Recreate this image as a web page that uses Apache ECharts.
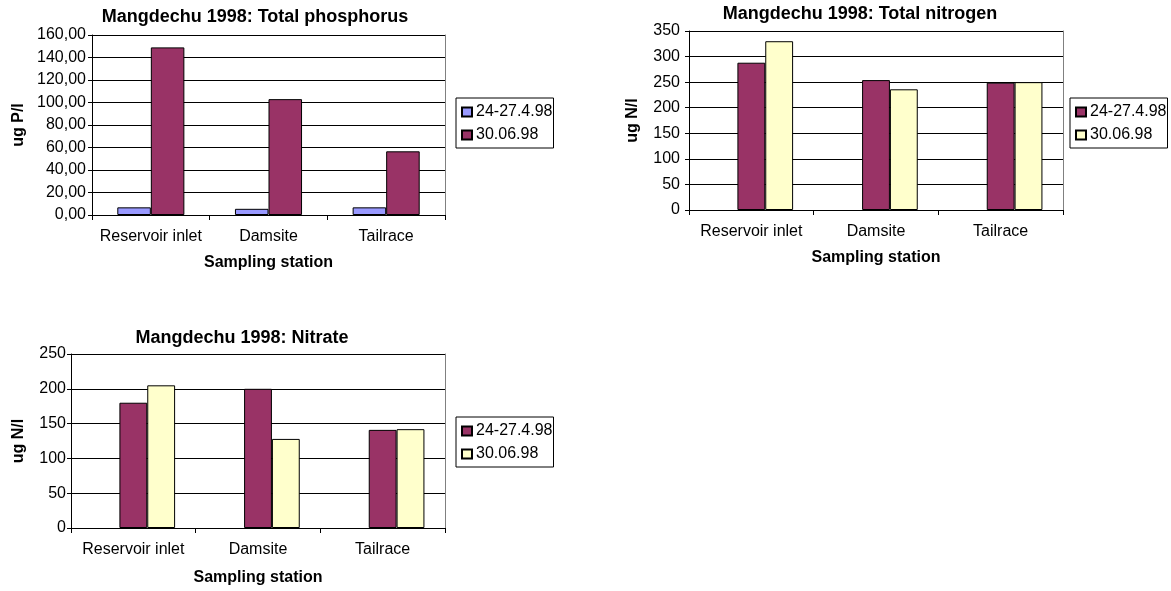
<!DOCTYPE html>
<html><head><meta charset="utf-8">
<script src="https://cdn.jsdelivr.net/npm/echarts@6/dist/echarts.min.js"></script>
<style>html,body{margin:0;padding:0;background:#fff;} .ch{position:absolute;}</style>
</head><body>
<div id="c1" class="ch" style="left:0;top:0;width:580px;height:300px"></div>
<div id="c2" class="ch" style="left:580px;top:0;width:591px;height:300px"></div>
<div id="c3" class="ch" style="left:0;top:300px;width:580px;height:291px"></div>
<script>
const stations = ['Reservoir inlet', 'Damsite', 'Tailrace'];
const seriesNames = ['24-27.4.98', '30.06.98'];
const phosApril = [6.8, 5.5, 6.8];
const phosJune = [149, 103, 56.6];
const nitroApril = [288, 254, 249];
const nitroJune = [330, 236, 250];
const nitrateApril = [180, 200, 141];
const nitrateJune = [205, 128, 142];
const phosTicks = {min: 0, max: 160, interval: 20};
const nitroTicks = {min: 0, max: 350, interval: 50};
const nitrateTicks = {min: 0, max: 250, interval: 50};

const FONT = '"Liberation Sans", Arial, sans-serif';
const RED = '#993366', BLUE = '#9999FF', YELLOW = '#FFFFCC';

function build(c) {
  const series = [];
  if (c.emptySlot) {
    series.push({type: 'bar', name: '_empty', data: stations.map(() => '-'), barGap: 0, barCategoryGap: c.catGap});
  }
  c.data.forEach((d, i) => {
    series.push({
      type: 'bar', name: seriesNames[i], data: d, barGap: 0, barCategoryGap: c.catGap,
      itemStyle: {color: c.colors[i], borderColor: '#000', borderWidth: 1},
      emphasis: {disabled: true}
    });
  });
  const yFont = {fontFamily: FONT, fontSize: 16, fontWeight: 'bold', color: '#000'};
  return {
    animation: false,
    backgroundColor: '#fff',
    title: {
      text: c.title, left: c.titleX, top: c.titleY, textAlign: 'center', padding: 0,
      textStyle: {fontFamily: FONT, fontSize: 18, fontWeight: 'bold', color: '#000'}
    },
    legend: {
      data: seriesNames, orient: 'vertical', left: c.legendX, top: c.legendY,
      padding: [6, 1, 5, 5], itemGap: 7, itemWidth: 10, itemHeight: 9, icon: 'rect',
      borderColor: '#000', borderWidth: 1, selectedMode: false,
      textStyle: {fontFamily: FONT, fontSize: 16, color: '#000', padding: [0, 0, 0, -1]}
    },
    grid: {left: c.grid[0], top: c.grid[1], width: c.grid[2], height: c.grid[3],
      show: false, containLabel: false},
    xAxis: {
      type: 'category', data: stations,
      name: 'Sampling station', nameLocation: 'middle', nameGap: c.xNameGap,
      nameTextStyle: yFont,
      axisLine: {lineStyle: {color: '#000', width: 1}},
      axisTick: {show: true, length: 5, lineStyle: {color: '#000'}},
      axisLabel: {fontFamily: FONT, fontSize: 16, color: '#000', margin: c.xLabelMargin, interval: 0}
    },
    yAxis: [{
      type: 'value', min: c.ticks.min, max: c.ticks.max, interval: c.ticks.interval,
      name: c.yName, nameLocation: 'middle', nameRotate: 90, nameGap: c.yNameGap,
      nameTextStyle: yFont,
      axisLine: {show: true, lineStyle: {color: '#000', width: 1}},
      axisTick: {show: true, length: 4, lineStyle: {color: '#000'}},
      splitLine: {show: true, lineStyle: {color: '#000', width: 1}},
      axisLabel: {fontFamily: FONT, fontSize: 16, color: '#000', margin: c.yLabelMargin,
        formatter: c.yFmt}
    }, {
      type: 'value', position: 'right', min: c.ticks.min, max: c.ticks.max, interval: c.ticks.interval,
      axisLine: {show: true, lineStyle: {color: '#808080', width: 1}},
      axisTick: {show: false}, axisLabel: {show: false}, splitLine: {show: false}
    }],
    series: series
  };
}

const cfgs = [
  {el: 'c1', title: 'Mangdechu 1998: Total phosphorus', titleX: 255, titleY: 8,
   grid: [92, 35, 353, 180], data: [phosApril, phosJune], colors: [BLUE, RED],
   emptySlot: false, catGap: '43%', ticks: phosTicks, yName: 'ug P/l',
   yNameGap: 65, xNameGap: 40, xLabelMargin: 14, yLabelMargin: 6,
   yFmt: v => v.toFixed(2).replace('.', ','), legendX: 456, legendY: 98},
  {el: 'c2', title: 'Mangdechu 1998: Total nitrogen', titleX: 280, titleY: 5,
   grid: [109, 31, 374, 179], data: [nitroApril, nitroJune], colors: [RED, YELLOW],
   emptySlot: true, catGap: '33%', ticks: nitroTicks, yName: 'ug N/l',
   yNameGap: 48, xNameGap: 40, xLabelMargin: 14, yLabelMargin: 9,
   yFmt: v => String(v), legendX: 490, legendY: 98},
  {el: 'c3', title: 'Mangdechu 1998: Nitrate', titleX: 242, titleY: 29,
   grid: [71, 54, 374, 179], data: [nitrateApril, nitrateJune], colors: [RED, YELLOW],
   emptySlot: true, catGap: '33%', ticks: nitrateTicks, yName: 'ug N/l',
   yNameGap: 44, xNameGap: 42, xLabelMargin: 14, yLabelMargin: 5,
   yFmt: v => String(v), legendX: 456, legendY: 117}
];

cfgs.forEach(c => {
  const chart = echarts.init(document.getElementById(c.el), null, {renderer: 'canvas'});
  chart.setOption(build(c));
});
</script>
</body></html>
